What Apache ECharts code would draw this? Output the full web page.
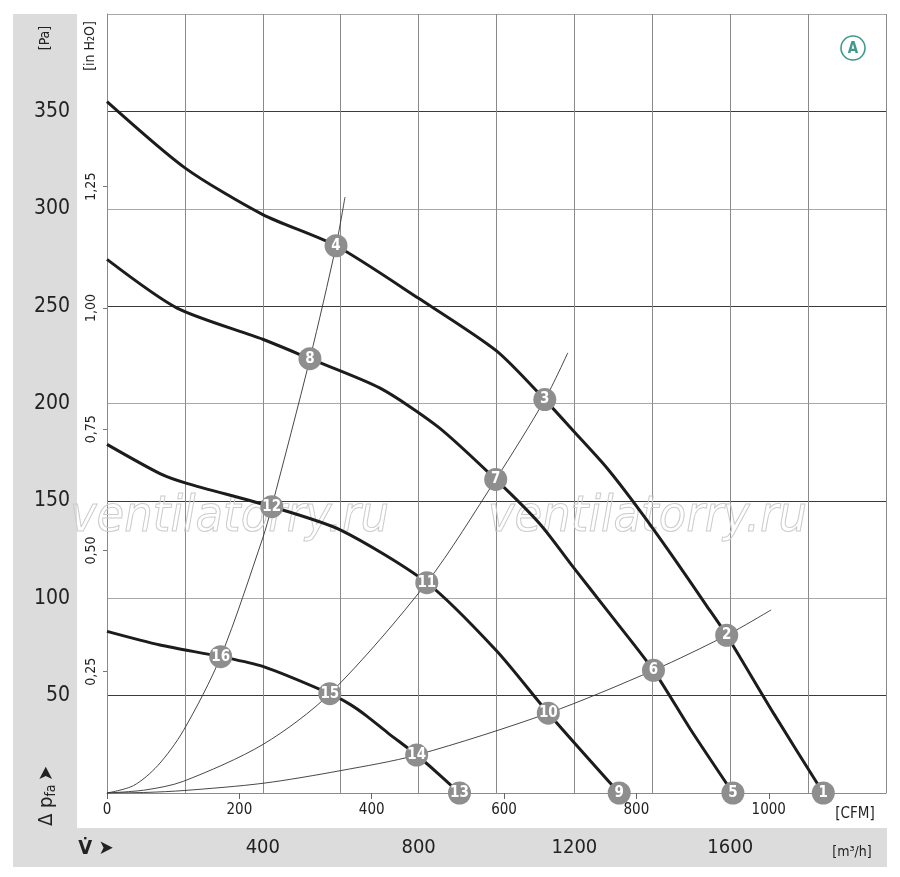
<!DOCTYPE html>
<html lang="en">
<head>
    <meta charset="UTF-8">
    <title>Fan curves</title>
    <script src="https://cdn.jsdelivr.net/npm/echarts@6/dist/echarts.min.js"></script>
    <style>
        html, body { margin: 0; padding: 0; background: #fff; }
    </style>
</head>
<body>
<div id="main" style="width: 900px; height: 877px;"></div>
</body>
<script>
    // ---- data: flow [m3/h], pressure [Pa] ----
    var flowA = [0, 200, 400, 588, 800, 1000, 1124, 1197, 1283, 1368, 1454, 1540, 1591, 1711, 1839]
    var presA = [355, 321, 297, 281, 254, 227, 202, 186, 167, 145, 121, 96, 81, 41, 0]

    var flowB = [0, 180, 400, 521, 700, 850, 998, 1112, 1197, 1283, 1403, 1497, 1607]
    var presB = [274, 249, 233, 223, 208, 188, 161, 138, 116, 94, 63, 33, 0]

    var flowC = [0, 136, 205, 423, 600, 821, 1000, 1133, 1315]
    var presC = [179, 164, 159, 147, 135, 108, 73, 41, 0]

    var flowD = [0, 136, 292, 400, 572, 624, 667, 720, 795, 850, 905]
    var presD = [83, 76, 70, 65, 51, 45.5, 39.5, 31, 19.5, 10, 0]

    // system curves (thin)
    var flowS1 = [0, 68, 130, 196, 292, 400, 423, 521, 588, 611]
    var presS1 = [0, 3.8, 14, 32, 70, 131, 147, 223, 281, 306]
    var flowS2 = [0, 100, 196, 401, 572, 821, 998, 1124, 1183]
    var presS2 = [0, 1.6, 6, 25, 51, 108, 161, 202, 226]
    var flowS3 = [0, 100, 200, 401, 600, 795, 1133, 1403, 1591, 1705]
    var presS3 = [0, 0.3, 1.3, 5, 11.5, 19.5, 41, 63, 81, 94]

    // numbered operating points
    var markNo = [1, 2, 3, 4, 5, 6, 7, 8, 9, 10, 11, 12, 13, 14, 15, 16]
    var markFlow = [1839, 1591, 1124, 588, 1607, 1403, 998, 521, 1315, 1133, 821, 423, 905, 795, 572, 292]
    var markPres = [0, 81, 202, 281, 0, 63, 161, 223, 0, 41, 108, 147, 0, 19.5, 51, 70]

    // tick labels
    var paLabels = [50, 100, 150, 200, 250, 300, 350]
    var m3hLabels = [400, 800, 1200, 1600]
    var cfmLabels = [0, 200, 400, 600, 800, 1000]
    var inH2OLabels = [0.25, 0.5, 0.75, 1, 1.25]

    var FONT = "'Liberation Sans Narrow', 'DejaVu Sans Condensed', sans-serif"
    var CFM_MAX = 2000 / 1.699
    var INH2O_MAX = 400 / 249.089

    function pairs(xs, ys) {
        return xs.map(function (x, i) { return [x, ys[i]] })
    }

    function has(list, v) {
        return list.some(function (t) { return Math.abs(t - v) < 1e-6 })
    }

    function fanLine(xs, ys) {
        return {
            type: 'line', xAxisIndex: 0, yAxisIndex: 0,
            smooth: 0.25, showSymbol: false, silent: true, z: 3,
            lineStyle: { color: '#1c1c1c', width: 3 },
            data: pairs(xs, ys)
        }
    }

    function sysLine(xs, ys) {
        return {
            type: 'line', xAxisIndex: 0, yAxisIndex: 0,
            smooth: 0.3, showSymbol: false, silent: true, z: 2,
            lineStyle: { color: '#333', width: 0.9 },
            data: pairs(xs, ys)
        }
    }

    var myChart = echarts.init(document.getElementById('main'))

    var option = {
        animation: false,
        backgroundColor: '#fff',
        grid: { left: 107, top: 14, right: 14, bottom: 84 },
        // ---- background bands and free texts ----
        graphic: [
            { type: 'rect', z: -10, shape: { x: 13, y: 14, width: 64, height: 853 }, style: { fill: '#dcdcdc' } },
            { type: 'rect', z: -10, shape: { x: 13, y: 828, width: 874, height: 39 }, style: { fill: '#dcdcdc' } },
            {
                type: 'text', x: 45, y: 38, rotation: Math.PI / 2, z: 5,
                style: { text: '[Pa]', font: '14px ' + FONT, fill: '#222', align: 'center', verticalAlign: 'middle' }
            },
            {
                type: 'text', x: 90, y: 46, rotation: Math.PI / 2, z: 5,
                style: { text: '[in H₂O]', font: '14px ' + FONT, fill: '#222', align: 'center', verticalAlign: 'middle' }
            },
            {
                type: 'text', x: 47, y: 796, rotation: Math.PI / 2, z: 5,
                style: {
                    text: '{a|Δ p}{s|fa} {a|➤}',
                    align: 'center', verticalAlign: 'middle',
                    rich: {
                        a: { font: '20px ' + FONT, fill: '#222' },
                        s: { font: '14px ' + FONT, fill: '#222', padding: [8, 0, 0, 0] }
                    }
                }
            },
            {
                type: 'text', x: 96, y: 849, z: 5,
                style: { text: 'V̇ ➤', font: 'bold 20px ' + FONT, fill: '#222', align: 'center', verticalAlign: 'middle' }
            },
            {
                type: 'text', x: 855, y: 814, z: 5,
                style: { text: '[CFM]', font: '15px ' + FONT, fill: '#222', align: 'center', verticalAlign: 'middle' }
            },
            {
                type: 'text', x: 852, y: 852, z: 5,
                style: { text: '[m³/h]', font: '14px ' + FONT, fill: '#222', align: 'center', verticalAlign: 'middle' }
            },
            // ---- "A" badge ----
            {
                type: 'circle', z: 5, shape: { cx: 853, cy: 48, r: 12 },
                style: { fill: '#fff', stroke: '#3e9a8c', lineWidth: 1.6 }
            },
            {
                type: 'text', x: 853, y: 49, z: 6,
                style: { text: 'A', font: 'bold 15px ' + FONT, fill: '#3e9a8c', align: 'center', verticalAlign: 'middle' }
            },
            // ---- watermark ----
            {
                type: 'text', x: 70, y: 518, z: 1,
                style: { text: 'ventilatorry.ru', font: 'italic 50px ' + FONT, fill: 'transparent', stroke: '#cccccc', lineWidth: 1, verticalAlign: 'middle' }
            },
            {
                type: 'text', x: 488, y: 518, z: 1,
                style: { text: 'ventilatorry.ru', font: 'italic 50px ' + FONT, fill: 'transparent', stroke: '#cccccc', lineWidth: 1, verticalAlign: 'middle' }
            }
        ],
        //  ------  X axes ------
        xAxis: [
            {   // m3/h
                type: 'value', position: 'bottom', min: 0, max: 2000, interval: 200,
                axisLine: { show: true, lineStyle: { color: '#8a8a8a', width: 1 } },
                axisTick: { show: false },
                axisLabel: {
                    margin: 45, fontSize: 20, color: '#222', fontFamily: FONT,
                    formatter: function (v) { return has(m3hLabels, v) ? String(v) : '' }
                },
                splitLine: { show: true, lineStyle: { color: '#8a8a8a', width: 1 } }
            },
            {   // CFM
                type: 'value', position: 'bottom', min: 0, max: CFM_MAX,
                axisLine: { show: false },
                axisTick: { show: true, length: 6, customValues: cfmLabels, lineStyle: { color: '#666', width: 1 } },
                axisLabel: {
                    margin: 10, fontSize: 15, color: '#222', fontFamily: FONT, customValues: cfmLabels,
                    formatter: function (v) { return String(v) }
                },
                splitLine: { show: false }
            }
        ],
        //   ------   Y axes  ----------
        yAxis: [
            {   // Pa
                type: 'value', position: 'left', min: 0, max: 400, interval: 50,
                axisLine: { show: false },
                axisTick: { show: false },
                axisLabel: {
                    margin: 37, fontSize: 21, color: '#222', fontFamily: FONT,
                    formatter: function (v) { return has(paLabels, v) ? String(v) : '' }
                },
                splitLine: { show: true, lineStyle: { color: ['#a8a8a8', '#3a3a3a'], width: 1 } }
            },
            {   // in H2O
                type: 'value', position: 'left', min: 0, max: INH2O_MAX,
                axisLine: { show: true, lineStyle: { color: '#8a8a8a', width: 1 } },
                axisTick: { show: true, length: 4, customValues: inH2OLabels, lineStyle: { color: '#777', width: 1 } },
                axisLabel: {
                    margin: 9, fontSize: 14, color: '#222', fontFamily: FONT, rotate: 90,
                    customValues: inH2OLabels,
                    formatter: function (v) { return v.toFixed(2).replace('.', ',') }
                },
                splitLine: { show: false }
            }
        ],
        //  -------   series -------
        series: [
            sysLine(flowS1, presS1),
            sysLine(flowS2, presS2),
            sysLine(flowS3, presS3),
            fanLine(flowA, presA),
            fanLine(flowB, presB),
            fanLine(flowC, presC),
            fanLine(flowD, presD),
            {
                type: 'scatter', xAxisIndex: 0, yAxisIndex: 0, z: 10, clip: false, silent: true,
                symbol: 'circle', symbolSize: 23,
                itemStyle: { color: '#8e8e8e', opacity: 1 },
                label: {
                    show: true, position: 'inside', color: '#fff', fontWeight: 'bold',
                    fontSize: 15, fontFamily: FONT,
                    formatter: function (p) { return String(p.value[2]) }
                },
                data: markNo.map(function (n, i) { return [markFlow[i], markPres[i], n] })
            }
        ]
    };
    myChart.setOption(option);
</script>
</html>
